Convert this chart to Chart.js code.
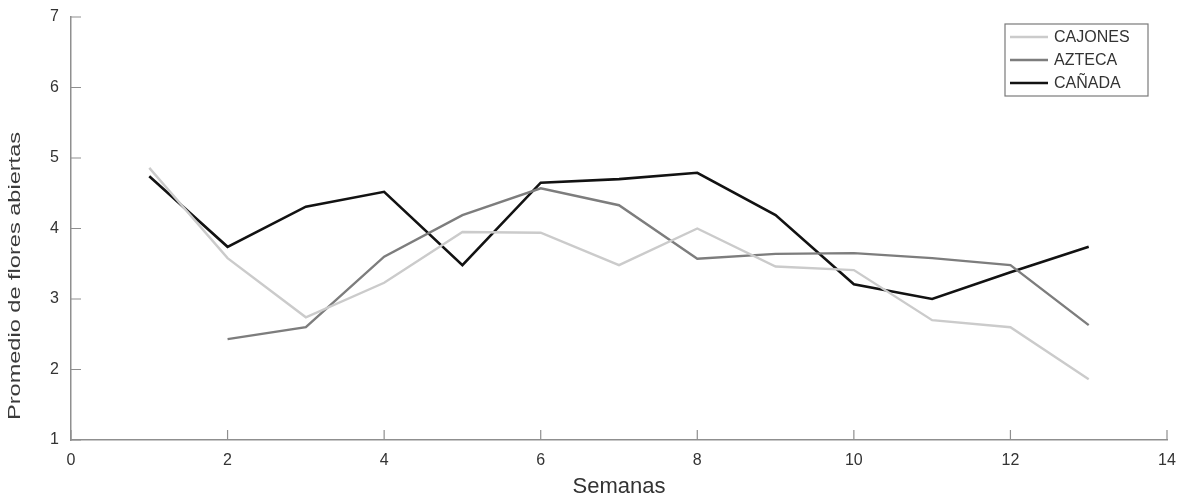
<!DOCTYPE html>
<html>
<head>
<meta charset="utf-8">
<script src="https://cdn.jsdelivr.net/npm/chart.js@4.4.1/dist/chart.umd.min.js"></script>
<style>
html,body{margin:0;padding:0;background:#fff;}
#wrap{width:1185px;height:500px;position:relative;}
</style>
</head>
<body>
<div id="wrap"><canvas id="c" width="1185" height="500"></canvas></div>
<script>
const weeks = [1,2,3,4,5,6,7,8,9,10,11,12,13];
const cajones = [4.86,3.58,2.74,3.23,3.95,3.94,3.48,4.0,3.46,3.41,2.70,2.60,1.86];
const azteca  = [null,2.43,2.60,3.60,4.19,4.57,4.33,3.57,3.64,3.65,3.58,3.48,2.63];
const canada  = [4.74,3.74,4.31,4.52,3.48,4.65,4.70,4.79,4.19,3.21,3.00,3.38,3.74];
const xTicks = [0,2,4,6,8,10,12,14];
const yTicks = [1,2,3,4,5,6,7];
const yTitle = 'Promedio de flores abiertas';

const FONT = '"Liberation Sans", Arial, sans-serif';
const AXIS = '#8f8f8f';

function pts(vals){ return weeks.map((w,i)=>({x:w,y:vals[i]})); }

const inwardTicks = {
  id:'inwardTicks',
  afterDatasetsDraw(chart){
    const ctx = chart.ctx, xs = chart.scales.x, ys = chart.scales.y, a = chart.chartArea;
    ctx.save();
    ctx.strokeStyle = AXIS; ctx.lineWidth = 1.2;
    ctx.beginPath();
    xTicks.forEach(v=>{ const px = xs.getPixelForValue(v); ctx.moveTo(px,a.bottom); ctx.lineTo(px,a.bottom-10); });
    yTicks.forEach(v=>{ const py = ys.getPixelForValue(v); ctx.moveTo(a.left,py); ctx.lineTo(a.left+10,py); });
    ctx.stroke();
    ctx.restore();
  }
};

const yTitlePlugin = {
  id:'yTitlePlugin',
  afterDraw(chart){
    const ctx = chart.ctx;
    ctx.save();
    ctx.font = '16px ' + FONT;
    const w = ctx.measureText(yTitle).width;
    ctx.translate(20, 276);
    ctx.rotate(-Math.PI/2);
    ctx.scale(288 / w, 1);
    ctx.fillStyle = '#3a3a3a';
    ctx.textAlign = 'center';
    ctx.textBaseline = 'alphabetic';
    ctx.fillText(yTitle, 0, 0);
    ctx.restore();
  }
};

const boxLegend = {
  id:'boxLegend',
  afterDraw(chart){
    const ctx = chart.ctx;
    const x0 = 1005, y0 = 24, w = 143, h = 72;
    ctx.save();
    ctx.fillStyle = '#fff';
    ctx.fillRect(x0,y0,w,h);
    ctx.strokeStyle = '#7a7a7a'; ctx.lineWidth = 1.2;
    ctx.strokeRect(x0,y0,w,h);
    ctx.font = '16px ' + FONT;
    ctx.textBaseline = 'middle';
    chart.data.datasets.forEach((ds,i)=>{
      const cy = y0 + 13 + i*23;
      ctx.strokeStyle = ds.borderColor; ctx.lineWidth = ds.borderWidth;
      ctx.beginPath(); ctx.moveTo(x0+5,cy); ctx.lineTo(x0+43,cy); ctx.stroke();
      ctx.fillStyle = '#333';
      ctx.fillText(ds.label, x0+49, cy+1);
    });
    ctx.restore();
  }
};

new Chart(document.getElementById('c'), {
  type:'line',
  data:{
    datasets:[
      {label:'CAJONES', data:pts(cajones), borderColor:'#cbcbcb', borderWidth:2.4, pointRadius:0, tension:0, fill:false},
      {label:'AZTECA', data:pts(azteca), borderColor:'#7d7d7d', borderWidth:2.4, pointRadius:0, tension:0, fill:false},
      {label:'CAÑADA', data:pts(canada), borderColor:'#121212', borderWidth:2.6, pointRadius:0, tension:0, fill:false}
    ]
  },
  options:{
    responsive:false,
    animation:false,
    layout:{padding:{left:0,right:18,top:17,bottom:0}},
    plugins:{legend:{display:false}, tooltip:{enabled:false}},
    scales:{
      x:{
        type:'linear', min:0, max:14,
        afterBuildTicks(s){ s.ticks = xTicks.map(v=>({value:v})); },
        afterFit(s){ s.height = 60; s.paddingLeft = 0; s.paddingRight = 0; },
        grid:{drawOnChartArea:false, drawTicks:false},
        border:{color:AXIS, width:1.5},
        ticks:{color:'#333', font:{family:FONT,size:16}, padding:11},
        title:{display:true, text:'Semanas', color:'#333', font:{family:FONT,size:22}, padding:{top:0,bottom:0}}
      },
      y:{
        min:1, max:7,
        afterBuildTicks(s){ s.ticks = yTicks.map(v=>({value:v})); },
        afterFit(s){ s.width = 71; s.paddingTop = 0; s.paddingBottom = 0; },
        grid:{drawOnChartArea:false, drawTicks:false},
        border:{color:AXIS, width:1.5},
        ticks:{color:'#333', font:{family:FONT,size:16}, padding:12},
        title:{display:false}
      }
    }
  },
  plugins:[inwardTicks, yTitlePlugin, boxLegend]
});
</script>
</body>
</html>
